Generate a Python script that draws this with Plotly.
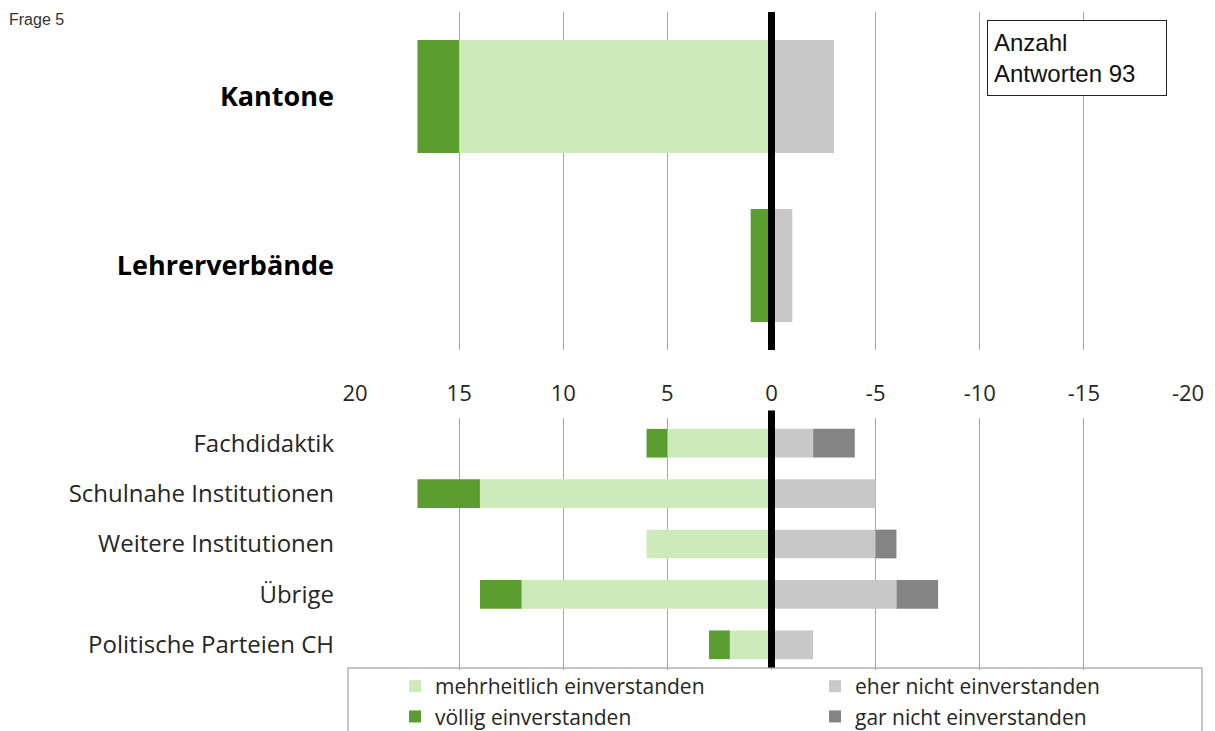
import plotly.graph_objects as go

# ---- data ----
top_cats = ["Kantone", "Lehrerverbände"]
bottom_cats = ["Fachdidaktik", "Schulnahe Institutionen", "Weitere Institutionen",
               "Übrige", "Politische Parteien CH"]

top_mehrheitlich = [15, 0]
top_voellig = [2, 1]
top_eher_nicht = [3, 1]
top_gar_nicht = [0, 0]

bot_mehrheitlich = [5, 14, 6, 12, 2]
bot_voellig = [1, 3, 0, 2, 1]
bot_eher_nicht = [2, 5, 5, 6, 2]
bot_gar_nicht = [2, 0, 1, 2, 0]

tick_vals = [20, 15, 10, 5, 0, -5, -10, -15, -20]
tick_text = ["20", "15", "10", "5", "0", "-5", "-10", "-15", "-20"]

colors = {
    "mehrheitlich einverstanden": "#cdeabb",
    "völlig einverstanden": "#5b9d2e",
    "eher nicht einverstanden": "#c8c8c8",
    "gar nicht einverstanden": "#848484",
}
legend_of = {
    "mehrheitlich einverstanden": "legend",
    "völlig einverstanden": "legend",
    "eher nicht einverstanden": "legend2",
    "gar nicht einverstanden": "legend2",
}

FONT = "Open Sans"

fig = go.Figure()


def add(name, x, y, xa, ya, show, width=None):
    fig.add_trace(go.Bar(
        name=name, x=x, y=y, orientation="h", xaxis=xa, yaxis=ya,
        marker=dict(color=colors[name], line=dict(width=0)),
        legendgroup=name, showlegend=show, legend=legend_of[name],
        width=width, hoverinfo="x+y+name",
    ))


neg = lambda v: [-a for a in v]

add("mehrheitlich einverstanden", top_mehrheitlich, top_cats, "x", "y", False)
add("völlig einverstanden", top_voellig, top_cats, "x", "y", False)
add("eher nicht einverstanden", neg(top_eher_nicht), top_cats, "x", "y", False)
add("gar nicht einverstanden", neg(top_gar_nicht), top_cats, "x", "y", False)

add("mehrheitlich einverstanden", bot_mehrheitlich, bottom_cats, "x2", "y2", True, 0.57)
add("völlig einverstanden", bot_voellig, bottom_cats, "x2", "y2", True, 0.57)
add("eher nicht einverstanden", neg(bot_eher_nicht), bottom_cats, "x2", "y2", True, 0.57)
add("gar nicht einverstanden", neg(bot_gar_nicht), bottom_cats, "x2", "y2", True, 0.57)

OX, OY = 8, 8  # page body offset
W, H = 1215 - OX, 760  # taller paper so the legend never pushes the margins


def px(x):
    return (x - OX) / W


def py(y):
    return 1 - (y - OY) / H


xdom = [px(355), px(1188)]
top_dom = [py(350), py(12)]
bot_dom = [py(670), py(418)]

grid = "#a6a6a6"
legend_common = dict(orientation="v", yanchor="top", y=py(666), xanchor="left",
                     bgcolor="rgba(0,0,0,0)", borderwidth=0,
                     font=dict(family=FONT, size=21, color="#262626"),
                     itemwidth=30, traceorder="grouped", tracegroupgap=0)

fig.update_layout(
    width=W, height=H,
    margin=dict(l=0, r=0, t=0, b=0),
    paper_bgcolor="white", plot_bgcolor="white",
    barmode="relative",
    bargap=0.33,
    font=dict(family=FONT, color="#262626"),
    xaxis=dict(domain=xdom, range=[20, -20], anchor="y", automargin=False,
               tickvals=tick_vals, showticklabels=False, showgrid=True,
               gridcolor=grid, gridwidth=1, zeroline=False, showline=False,
               ticks=""),
    yaxis=dict(domain=top_dom, anchor="x", autorange="reversed", automargin=False,
               showgrid=False, zeroline=False, showline=False,
               ticks="", ticklabelstandoff=20,
               tickfont=dict(family=FONT, size=27, color="#000000", weight="bold")),
    xaxis2=dict(domain=xdom, range=[20, -20], anchor="y2", side="top",
                automargin=False,
                tickvals=tick_vals, ticktext=tick_text, showgrid=True,
                gridcolor=grid, gridwidth=1, zeroline=False, showline=False,
                ticks="", ticklabelstandoff=12,
                tickfont=dict(family=FONT, size=22, color="#262626")),
    yaxis2=dict(domain=bot_dom, anchor="x2", autorange="reversed", automargin=False,
                showgrid=False, zeroline=False, showline=False,
                ticks="", ticklabelstandoff=20,
                tickfont=dict(family=FONT, size=24, color="#262626")),
    legend=dict(x=px(395), **legend_common),
    legend2=dict(x=px(815), **legend_common),
    shapes=[
        dict(type="rect", xref="paper", yref="paper", x0=px(348), x1=px(1202),
             y0=-0.05, y1=py(668), line=dict(color="#8c8c8c", width=1),
             fillcolor="white", layer="below"),
        dict(type="line", xref="x", yref="y domain", x0=0, x1=0, y0=0, y1=1,
             line=dict(color="black", width=7), layer="above"),
        dict(type="line", xref="x2", yref="y2 domain", x0=0, x1=0, y0=0.01, y1=1.03,
             line=dict(color="black", width=7), layer="above"),
    ],
    annotations=[
        dict(text="Frage 5", xref="paper", yref="paper", x=px(7), y=py(9),
             xanchor="left", yanchor="top", showarrow=False,
             font=dict(family="Liberation Sans", size=16, color="#333333")),
        dict(text="Anzahl<br>Antworten 93", xref="paper", yref="paper",
             x=px(987), y=py(20), xanchor="left", yanchor="top",
             showarrow=False, align="left", width=166, height=62,
             bordercolor="#222222", borderwidth=1, borderpad=6, bgcolor="white",
             font=dict(family="Liberation Sans", size=24, color="#111111")),
    ],
)

fig.write_html("out.html")
